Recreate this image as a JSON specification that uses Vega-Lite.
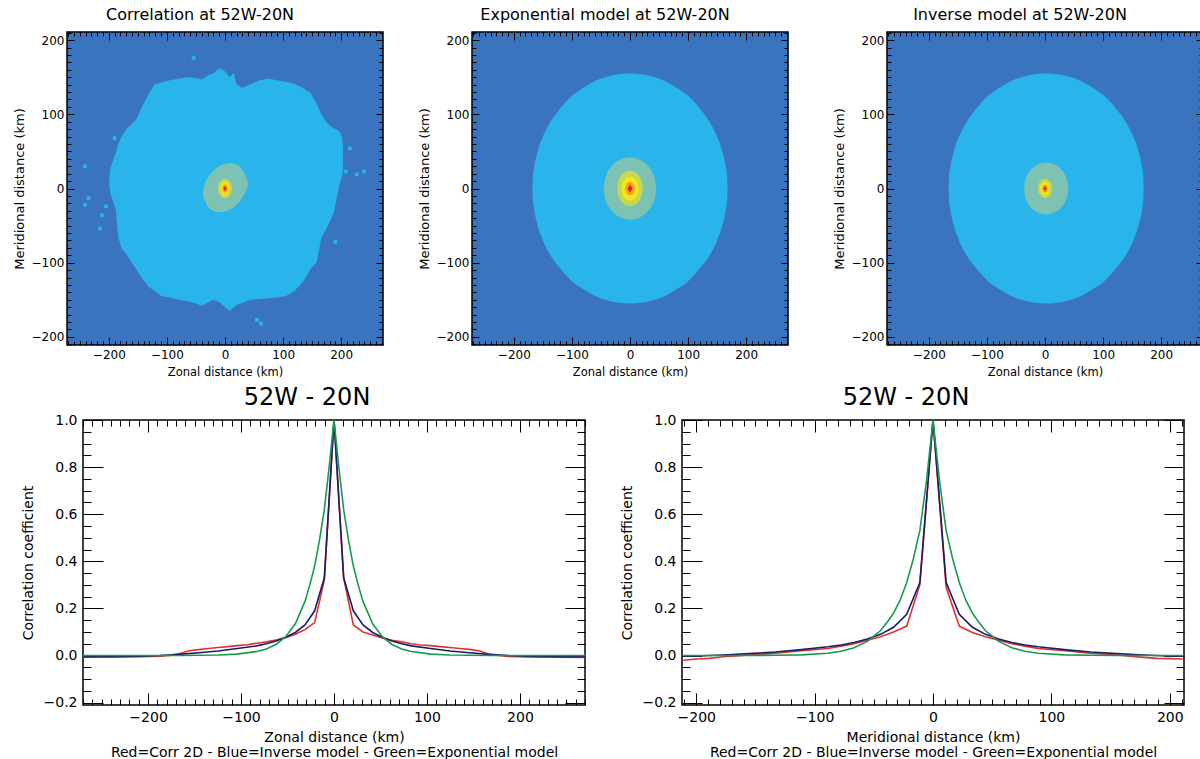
{
  "$schema": "https://vega.github.io/schema/vega-lite/v6.json",
  "background": "white",
  "autosize": {"type": "pad"},
  "padding": {"left": 12, "top": 5, "right": 0, "bottom": 0},
  "config": {
    "font": "DejaVu Sans",
    "view": {"stroke": "black", "strokeWidth": 1.5},
    "axis": {"grid": false, "domain": false, "tickColor": "black", "tickWidth": 1, "labelColor": "black", "titleColor": "black", "titleFontWeight": "normal", "labelFlush": false, "labelOverlap": false, "labelBound": false},
    "title": {"fontWeight": "normal", "color": "black"}
  },
  "datasets": {
    "blob": [
      {"x": -199, "top": 15, "bot": 3}, {"x": -197, "top": 28, "bot": -8}, {"x": -193, "top": 37, "bot": -17}, {"x": -188, "top": 48, "bot": -28},
      {"x": -184, "top": 59, "bot": -65}, {"x": -178, "top": 70, "bot": -81}, {"x": -170, "top": 80, "bot": -88}, {"x": -162, "top": 86, "bot": -98},
      {"x": -152, "top": 94, "bot": -110}, {"x": -142, "top": 112, "bot": -122}, {"x": -132, "top": 126, "bot": -132}, {"x": -122, "top": 140, "bot": -138},
      {"x": -110, "top": 143, "bot": -145}, {"x": -95, "top": 146, "bot": -147}, {"x": -80, "top": 148, "bot": -150}, {"x": -65, "top": 150, "bot": -152},
      {"x": -50, "top": 149, "bot": -155}, {"x": -40, "top": 147, "bot": -158}, {"x": -30, "top": 152, "bot": -154}, {"x": -20, "top": 155, "bot": -150},
      {"x": -10, "top": 162, "bot": -153}, {"x": 0, "top": 158, "bot": -160}, {"x": 8, "top": 150, "bot": -165}, {"x": 15, "top": 156, "bot": -160},
      {"x": 20, "top": 140, "bot": -157}, {"x": 30, "top": 136, "bot": -154}, {"x": 45, "top": 141, "bot": -150}, {"x": 60, "top": 146, "bot": -149},
      {"x": 75, "top": 148, "bot": -148}, {"x": 90, "top": 146, "bot": -147}, {"x": 105, "top": 144, "bot": -145}, {"x": 120, "top": 141, "bot": -138},
      {"x": 135, "top": 135, "bot": -125}, {"x": 148, "top": 128, "bot": -108}, {"x": 158, "top": 114, "bot": -99}, {"x": 166, "top": 100, "bot": -66},
      {"x": 174, "top": 90, "bot": -55}, {"x": 182, "top": 84, "bot": -42}, {"x": 188, "top": 81, "bot": -30}, {"x": 193, "top": 80, "bot": -10},
      {"x": 198, "top": 76, "bot": 8}, {"x": 201, "top": 70, "bot": 15}, {"x": 203, "top": 58, "bot": 24}
    ],
    "specks": [
      {"x": -54, "y": 176}, {"x": -190, "y": 68}, {"x": 215, "y": 54}, {"x": 239, "y": 23}, {"x": 227, "y": 19}, {"x": 208, "y": 23},
      {"x": -241, "y": -22}, {"x": -235, "y": -13}, {"x": -205, "y": -24}, {"x": -215, "y": -54}, {"x": -212, "y": -36}, {"x": 55, "y": -177},
      {"x": 62, "y": -182}, {"x": 190, "y": -72}, {"x": -241, "y": 30}
    ],
    "p1_teal": [
      {"x": -38, "top": -4, "bot": -10}, {"x": -35, "top": 6, "bot": -16}, {"x": -30, "top": 14, "bot": -24}, {"x": -20, "top": 24, "bot": -30},
      {"x": -10, "top": 30, "bot": -32}, {"x": 0, "top": 33, "bot": -31}, {"x": 10, "top": 34, "bot": -28}, {"x": 20, "top": 32, "bot": -22},
      {"x": 30, "top": 25, "bot": -12}, {"x": 36, "top": 16, "bot": -3}, {"x": 40, "top": 7, "bot": 3}
    ],
    "s_yg": [
      {"x": -12, "top": 0, "bot": 0}, {"x": -11.6, "top": 3.2, "bot": -3.2}, {"x": -10.8, "top": 5.7, "bot": -5.7}, {"x": -8.4, "top": 9.3, "bot": -9.3},
      {"x": -4.8, "top": 11.9, "bot": -11.9}, {"x": 0, "top": 13, "bot": -13}, {"x": 4.8, "top": 11.9, "bot": -11.9}, {"x": 8.4, "top": 9.3, "bot": -9.3},
      {"x": 10.8, "top": 5.7, "bot": -5.7}, {"x": 11.6, "top": 3.2, "bot": -3.2}, {"x": 12, "top": 0, "bot": 0}
    ],
    "s_y": [
      {"x": -8, "top": 0, "bot": 0}, {"x": -7.8, "top": 2.2, "bot": -2.2}, {"x": -7.2, "top": 3.9, "bot": -3.9}, {"x": -5.6, "top": 6.4, "bot": -6.4},
      {"x": -3.2, "top": 8.3, "bot": -8.3}, {"x": 0, "top": 9, "bot": -9}, {"x": 3.2, "top": 8.3, "bot": -8.3}, {"x": 5.6, "top": 6.4, "bot": -6.4},
      {"x": 7.2, "top": 3.9, "bot": -3.9}, {"x": 7.8, "top": 2.2, "bot": -2.2}, {"x": 8, "top": 0, "bot": 0}
    ],
    "s_o": [
      {"x": -5, "top": 0, "bot": 0}, {"x": -2.5, "top": 4.8, "bot": -4.8}, {"x": 0, "top": 5.5, "bot": -5.5}, {"x": 2.5, "top": 4.8, "bot": -4.8}, {"x": 5, "top": 0, "bot": 0}
    ],
    "s_r": [
      {"x": -3, "top": 0, "bot": 0}, {"x": 0, "top": 3.5, "bot": -3.5}, {"x": 3, "top": 0, "bot": 0}
    ],
    "p2_big": [
      {"x": -168, "top": 0, "bot": 0}, {"x": -167, "top": 17, "bot": -17}, {"x": -165, "top": 29, "bot": -29}, {"x": -160, "top": 47, "bot": -47},
      {"x": -150, "top": 70, "bot": -70}, {"x": -140, "top": 86, "bot": -86}, {"x": -120, "top": 108, "bot": -108}, {"x": -100, "top": 125, "bot": -125},
      {"x": -80, "top": 136, "bot": -136}, {"x": -60, "top": 145, "bot": -145}, {"x": -40, "top": 150.5, "bot": -150.5}, {"x": -20, "top": 154, "bot": -154},
      {"x": 0, "top": 155, "bot": -155}, {"x": 20, "top": 154, "bot": -154}, {"x": 40, "top": 150.5, "bot": -150.5}, {"x": 60, "top": 145, "bot": -145},
      {"x": 80, "top": 136, "bot": -136}, {"x": 100, "top": 125, "bot": -125}, {"x": 120, "top": 108, "bot": -108}, {"x": 140, "top": 86, "bot": -86},
      {"x": 150, "top": 70, "bot": -70}, {"x": 160, "top": 47, "bot": -47}, {"x": 165, "top": 29, "bot": -29}, {"x": 167, "top": 17, "bot": -17}, {"x": 168, "top": 0, "bot": 0}
    ],
    "p2_teal": [
      {"x": -45, "top": 0, "bot": 0}, {"x": -43.6, "top": 10.2, "bot": -10.2}, {"x": -40.5, "top": 18.3, "bot": -18.3}, {"x": -31.5, "top": 30, "bot": -30},
      {"x": -18, "top": 38.5, "bot": -38.5}, {"x": 0, "top": 42, "bot": -42}, {"x": 18, "top": 38.5, "bot": -38.5}, {"x": 31.5, "top": 30, "bot": -30},
      {"x": 40.5, "top": 18.3, "bot": -18.3}, {"x": 43.6, "top": 10.2, "bot": -10.2}, {"x": 45, "top": 0, "bot": 0}
    ],
    "p2_yg": [
      {"x": -22, "top": 0, "bot": 0}, {"x": -21.3, "top": 5.8, "bot": -5.8}, {"x": -19.8, "top": 10.5, "bot": -10.5}, {"x": -15.4, "top": 17.1, "bot": -17.1},
      {"x": -8.8, "top": 22, "bot": -22}, {"x": 0, "top": 24, "bot": -24}, {"x": 8.8, "top": 22, "bot": -22}, {"x": 15.4, "top": 17.1, "bot": -17.1},
      {"x": 19.8, "top": 10.5, "bot": -10.5}, {"x": 21.3, "top": 5.8, "bot": -5.8}, {"x": 22, "top": 0, "bot": 0}
    ],
    "p2_y": [
      {"x": -15, "top": 0, "bot": 0}, {"x": -14.5, "top": 3.9, "bot": -3.9}, {"x": -13.5, "top": 7, "bot": -7}, {"x": -10.5, "top": 11.4, "bot": -11.4},
      {"x": -6, "top": 14.7, "bot": -14.7}, {"x": 0, "top": 16, "bot": -16}, {"x": 6, "top": 14.7, "bot": -14.7}, {"x": 10.5, "top": 11.4, "bot": -11.4},
      {"x": 13.5, "top": 7, "bot": -7}, {"x": 14.5, "top": 3.9, "bot": -3.9}, {"x": 15, "top": 0, "bot": 0}
    ],
    "p2_o": [
      {"x": -8, "top": 0, "bot": 0}, {"x": -7.8, "top": 2.2, "bot": -2.2}, {"x": -7.2, "top": 3.9, "bot": -3.9}, {"x": -5.6, "top": 6.4, "bot": -6.4},
      {"x": -3.2, "top": 8.3, "bot": -8.3}, {"x": 0, "top": 9, "bot": -9}, {"x": 3.2, "top": 8.3, "bot": -8.3}, {"x": 5.6, "top": 6.4, "bot": -6.4},
      {"x": 7.2, "top": 3.9, "bot": -3.9}, {"x": 7.8, "top": 2.2, "bot": -2.2}, {"x": 8, "top": 0, "bot": 0}
    ],
    "p2_r": [
      {"x": -4.5, "top": 0, "bot": 0}, {"x": 0, "top": 5.5, "bot": -5.5}, {"x": 4.5, "top": 0, "bot": 0}
    ],
    "p3_big": [
      {"x": -166, "top": 0, "bot": 0}, {"x": -165, "top": 17, "bot": -17}, {"x": -163, "top": 29, "bot": -29}, {"x": -158, "top": 47, "bot": -47},
      {"x": -148, "top": 70, "bot": -70}, {"x": -138, "top": 86, "bot": -86}, {"x": -118, "top": 108, "bot": -108}, {"x": -98, "top": 125, "bot": -125},
      {"x": -78, "top": 136, "bot": -136}, {"x": -58, "top": 145, "bot": -145}, {"x": -38, "top": 150.5, "bot": -150.5}, {"x": -18, "top": 154, "bot": -154},
      {"x": 2, "top": 155, "bot": -155}, {"x": 22, "top": 154, "bot": -154}, {"x": 42, "top": 150.5, "bot": -150.5}, {"x": 62, "top": 145, "bot": -145},
      {"x": 82, "top": 136, "bot": -136}, {"x": 102, "top": 125, "bot": -125}, {"x": 122, "top": 108, "bot": -108}, {"x": 142, "top": 86, "bot": -86},
      {"x": 152, "top": 70, "bot": -70}, {"x": 162, "top": 47, "bot": -47}, {"x": 167, "top": 29, "bot": -29}, {"x": 169, "top": 17, "bot": -17}, {"x": 170, "top": 0, "bot": 0}
    ],
    "p3_teal": [
      {"x": -36, "top": 0, "bot": 0}, {"x": -34.9, "top": 8.5, "bot": -8.5}, {"x": -32.2, "top": 15.3, "bot": -15.3}, {"x": -24.6, "top": 25, "bot": -25},
      {"x": -13.2, "top": 32.1, "bot": -32.1}, {"x": 2, "top": 35, "bot": -35}, {"x": 17.2, "top": 32.1, "bot": -32.1}, {"x": 28.6, "top": 25, "bot": -25},
      {"x": 36.2, "top": 15.3, "bot": -15.3}, {"x": 38.9, "top": 8.5, "bot": -8.5}, {"x": 40, "top": 0, "bot": 0}
    ],
    "zonal": [
      {"s": "red", "x": -270.4, "v": -0.007}, {"s": "red", "x": -239.2, "v": -0.006}, {"s": "red", "x": -208, "v": -0.005}, {"s": "red", "x": -187.2, "v": -0.003},
      {"s": "red", "x": -176.8, "v": 0.0}, {"s": "red", "x": -166.4, "v": 0.008}, {"s": "red", "x": -156, "v": 0.02}, {"s": "red", "x": -145.6, "v": 0.025},
      {"s": "red", "x": -135.2, "v": 0.03}, {"s": "red", "x": -124.8, "v": 0.034}, {"s": "red", "x": -114.4, "v": 0.038}, {"s": "red", "x": -104, "v": 0.042},
      {"s": "red", "x": -93.6, "v": 0.046}, {"s": "red", "x": -83.2, "v": 0.052}, {"s": "red", "x": -72.8, "v": 0.058}, {"s": "red", "x": -62.4, "v": 0.066},
      {"s": "red", "x": -52, "v": 0.076}, {"s": "red", "x": -41.6, "v": 0.09}, {"s": "red", "x": -31.2, "v": 0.11}, {"s": "red", "x": -20.8, "v": 0.14},
      {"s": "red", "x": -10.4, "v": 0.32}, {"s": "red", "x": 0, "v": 1.0}, {"s": "red", "x": 10.4, "v": 0.33}, {"s": "red", "x": 20.8, "v": 0.13},
      {"s": "red", "x": 31.2, "v": 0.1}, {"s": "red", "x": 41.6, "v": 0.087}, {"s": "red", "x": 52, "v": 0.075}, {"s": "red", "x": 62.4, "v": 0.065},
      {"s": "red", "x": 72.8, "v": 0.058}, {"s": "red", "x": 83.2, "v": 0.05}, {"s": "red", "x": 93.6, "v": 0.045}, {"s": "red", "x": 104, "v": 0.042},
      {"s": "red", "x": 114.4, "v": 0.038}, {"s": "red", "x": 124.8, "v": 0.034}, {"s": "red", "x": 135.2, "v": 0.03}, {"s": "red", "x": 145.6, "v": 0.026},
      {"s": "red", "x": 156, "v": 0.02}, {"s": "red", "x": 166.4, "v": 0.006}, {"s": "red", "x": 176.8, "v": 0.0}, {"s": "red", "x": 187.2, "v": -0.004},
      {"s": "red", "x": 208, "v": -0.006}, {"s": "red", "x": 239.2, "v": -0.007}, {"s": "red", "x": 270.4, "v": -0.008},
      {"s": "blue", "x": -270.4, "v": -0.005}, {"s": "blue", "x": -239.2, "v": -0.005}, {"s": "blue", "x": -208, "v": -0.003}, {"s": "blue", "x": -187.2, "v": 0.0},
      {"s": "blue", "x": -166.4, "v": 0.005}, {"s": "blue", "x": -145.6, "v": 0.012}, {"s": "blue", "x": -124.8, "v": 0.019}, {"s": "blue", "x": -104, "v": 0.03},
      {"s": "blue", "x": -83.2, "v": 0.041}, {"s": "blue", "x": -72.8, "v": 0.05}, {"s": "blue", "x": -62.4, "v": 0.062}, {"s": "blue", "x": -52, "v": 0.078},
      {"s": "blue", "x": -41.6, "v": 0.098}, {"s": "blue", "x": -31.2, "v": 0.13}, {"s": "blue", "x": -20.8, "v": 0.19}, {"s": "blue", "x": -10.4, "v": 0.33},
      {"s": "blue", "x": 0, "v": 1.0}, {"s": "blue", "x": 10.4, "v": 0.33}, {"s": "blue", "x": 20.8, "v": 0.19}, {"s": "blue", "x": 31.2, "v": 0.13},
      {"s": "blue", "x": 41.6, "v": 0.098}, {"s": "blue", "x": 52, "v": 0.078}, {"s": "blue", "x": 62.4, "v": 0.062}, {"s": "blue", "x": 72.8, "v": 0.05},
      {"s": "blue", "x": 83.2, "v": 0.041}, {"s": "blue", "x": 104, "v": 0.03}, {"s": "blue", "x": 124.8, "v": 0.019}, {"s": "blue", "x": 145.6, "v": 0.012},
      {"s": "blue", "x": 166.4, "v": 0.005}, {"s": "blue", "x": 187.2, "v": 0.0}, {"s": "blue", "x": 208, "v": -0.003}, {"s": "blue", "x": 239.2, "v": -0.005},
      {"s": "blue", "x": 270.4, "v": -0.005},
      {"s": "green", "x": -270.4, "v": 0.0}, {"s": "green", "x": -166.4, "v": 0.0}, {"s": "green", "x": -145.6, "v": 0.001}, {"s": "green", "x": -124.8, "v": 0.002},
      {"s": "green", "x": -104, "v": 0.006}, {"s": "green", "x": -83.2, "v": 0.017}, {"s": "green", "x": -72.8, "v": 0.028}, {"s": "green", "x": -62.4, "v": 0.047},
      {"s": "green", "x": -52, "v": 0.08}, {"s": "green", "x": -41.6, "v": 0.135}, {"s": "green", "x": -31.2, "v": 0.23}, {"s": "green", "x": -26, "v": 0.3},
      {"s": "green", "x": -20.8, "v": 0.38}, {"s": "green", "x": -15.6, "v": 0.49}, {"s": "green", "x": -10.4, "v": 0.62}, {"s": "green", "x": -5.2, "v": 0.8},
      {"s": "green", "x": 0, "v": 1.0}, {"s": "green", "x": 5.2, "v": 0.8}, {"s": "green", "x": 10.4, "v": 0.62}, {"s": "green", "x": 15.6, "v": 0.49},
      {"s": "green", "x": 20.8, "v": 0.38}, {"s": "green", "x": 26, "v": 0.3}, {"s": "green", "x": 31.2, "v": 0.23}, {"s": "green", "x": 41.6, "v": 0.135},
      {"s": "green", "x": 52, "v": 0.08}, {"s": "green", "x": 62.4, "v": 0.047}, {"s": "green", "x": 72.8, "v": 0.028}, {"s": "green", "x": 83.2, "v": 0.017},
      {"s": "green", "x": 104, "v": 0.006}, {"s": "green", "x": 124.8, "v": 0.002}, {"s": "green", "x": 145.6, "v": 0.001}, {"s": "green", "x": 166.4, "v": 0.0},
      {"s": "green", "x": 270.4, "v": 0.0}
    ],
    "merid": [
      {"s": "red", "x": -210.9, "v": -0.02}, {"s": "red", "x": -199.8, "v": -0.015}, {"s": "red", "x": -188.7, "v": -0.012}, {"s": "red", "x": -177.6, "v": -0.005},
      {"s": "red", "x": -166.5, "v": -0.002}, {"s": "red", "x": -155.4, "v": 0.002}, {"s": "red", "x": -133.2, "v": 0.01}, {"s": "red", "x": -111, "v": 0.02},
      {"s": "red", "x": -88.8, "v": 0.03}, {"s": "red", "x": -77.7, "v": 0.04}, {"s": "red", "x": -66.6, "v": 0.05}, {"s": "red", "x": -55.5, "v": 0.065},
      {"s": "red", "x": -44.4, "v": 0.08}, {"s": "red", "x": -33.3, "v": 0.1}, {"s": "red", "x": -22.2, "v": 0.125}, {"s": "red", "x": -11.1, "v": 0.3},
      {"s": "red", "x": 0, "v": 1.0}, {"s": "red", "x": 11.1, "v": 0.29}, {"s": "red", "x": 22.2, "v": 0.125}, {"s": "red", "x": 33.3, "v": 0.098},
      {"s": "red", "x": 44.4, "v": 0.08}, {"s": "red", "x": 55.5, "v": 0.065}, {"s": "red", "x": 66.6, "v": 0.05}, {"s": "red", "x": 77.7, "v": 0.04},
      {"s": "red", "x": 88.8, "v": 0.03}, {"s": "red", "x": 111, "v": 0.02}, {"s": "red", "x": 133.2, "v": 0.01}, {"s": "red", "x": 155.4, "v": 0.002},
      {"s": "red", "x": 166.5, "v": -0.003}, {"s": "red", "x": 177.6, "v": -0.008}, {"s": "red", "x": 188.7, "v": -0.012}, {"s": "red", "x": 199.8, "v": -0.013},
      {"s": "red", "x": 210.9, "v": -0.015},
      {"s": "blue", "x": -210.9, "v": -0.003}, {"s": "blue", "x": -199.8, "v": -0.002}, {"s": "blue", "x": -177.6, "v": 0.002}, {"s": "blue", "x": -155.4, "v": 0.008},
      {"s": "blue", "x": -133.2, "v": 0.015}, {"s": "blue", "x": -111, "v": 0.025}, {"s": "blue", "x": -88.8, "v": 0.037}, {"s": "blue", "x": -77.7, "v": 0.045},
      {"s": "blue", "x": -66.6, "v": 0.055}, {"s": "blue", "x": -55.5, "v": 0.07}, {"s": "blue", "x": -44.4, "v": 0.09}, {"s": "blue", "x": -33.3, "v": 0.12},
      {"s": "blue", "x": -22.2, "v": 0.175}, {"s": "blue", "x": -11.1, "v": 0.31}, {"s": "blue", "x": 0, "v": 1.0}, {"s": "blue", "x": 11.1, "v": 0.31},
      {"s": "blue", "x": 22.2, "v": 0.175}, {"s": "blue", "x": 33.3, "v": 0.12}, {"s": "blue", "x": 44.4, "v": 0.09}, {"s": "blue", "x": 55.5, "v": 0.07},
      {"s": "blue", "x": 66.6, "v": 0.055}, {"s": "blue", "x": 77.7, "v": 0.045}, {"s": "blue", "x": 88.8, "v": 0.037}, {"s": "blue", "x": 111, "v": 0.025},
      {"s": "blue", "x": 133.2, "v": 0.015}, {"s": "blue", "x": 155.4, "v": 0.008}, {"s": "blue", "x": 177.6, "v": 0.002}, {"s": "blue", "x": 199.8, "v": -0.002},
      {"s": "blue", "x": 210.9, "v": -0.003},
      {"s": "green", "x": -210.9, "v": 0.0}, {"s": "green", "x": -155.4, "v": 0.0}, {"s": "green", "x": -133.2, "v": 0.001}, {"s": "green", "x": -111, "v": 0.003},
      {"s": "green", "x": -88.8, "v": 0.01}, {"s": "green", "x": -77.7, "v": 0.018}, {"s": "green", "x": -66.6, "v": 0.033}, {"s": "green", "x": -55.5, "v": 0.06},
      {"s": "green", "x": -44.4, "v": 0.105}, {"s": "green", "x": -38.85, "v": 0.14}, {"s": "green", "x": -33.3, "v": 0.18}, {"s": "green", "x": -27.75, "v": 0.235},
      {"s": "green", "x": -22.2, "v": 0.31}, {"s": "green", "x": -16.65, "v": 0.41}, {"s": "green", "x": -11.1, "v": 0.53}, {"s": "green", "x": -5.55, "v": 0.74},
      {"s": "green", "x": 0, "v": 1.0}, {"s": "green", "x": 5.55, "v": 0.74}, {"s": "green", "x": 11.1, "v": 0.53}, {"s": "green", "x": 16.65, "v": 0.41},
      {"s": "green", "x": 22.2, "v": 0.31}, {"s": "green", "x": 27.75, "v": 0.235}, {"s": "green", "x": 33.3, "v": 0.18}, {"s": "green", "x": 38.85, "v": 0.14},
      {"s": "green", "x": 44.4, "v": 0.105}, {"s": "green", "x": 55.5, "v": 0.06}, {"s": "green", "x": 66.6, "v": 0.033}, {"s": "green", "x": 77.7, "v": 0.018},
      {"s": "green", "x": 88.8, "v": 0.01}, {"s": "green", "x": 111, "v": 0.003}, {"s": "green", "x": 133.2, "v": 0.001}, {"s": "green", "x": 155.4, "v": 0.0},
      {"s": "green", "x": 210.9, "v": 0.0}
    ]
  },
  "bounds": "flush",
  "spacing": 388,
  "vconcat": [
    {
      "bounds": "flush",
      "spacing": 89,
      "hconcat": [
        {
          "width": 316, "height": 313,
          "view": {"fill": "#3B74BE", "stroke": "black", "strokeWidth": 1.5},
          "title": {"text": "Correlation at 52W-20N", "fontSize": 16, "dx": -25, "offset": 4},
          "resolve": {"axis": {"x": "independent", "y": "independent"}},
          "layer": [
            {"data": {"name": "blob"}, "mark": {"type": "area", "color": "#2AB4EC", "interpolate": "linear", "opacity": 1},
             "encoding": {
               "x": {"field": "x", "type": "quantitative", "scale": {"domain": [-272, 272], "nice": false, "zero": false},
                     "axis": {"orient": "bottom", "title": "Zonal distance (km)", "titleFontSize": 11.5, "titlePadding": 2, "labelFontSize": 12, "labelPadding": 12,
                              "values": [-270,-260,-250,-240,-230,-220,-210,-200,-190,-180,-170,-160,-150,-140,-130,-120,-110,-100,-90,-80,-70,-60,-50,-40,-30,-20,-10,0,10,20,30,40,50,60,70,80,90,100,110,120,130,140,150,160,170,180,190,200,210,220,230,240,250,260,270],
                              "labelExpr": "datum.value % 100 === 0 ? datum.label : ''",
                              "tickSize": {"condition": {"test": "datum.value % 100 === 0", "value": -8}, "value": -4}}},
               "y": {"field": "top", "type": "quantitative", "scale": {"domain": [-211, 211], "nice": false, "zero": false},
                     "axis": {"orient": "left", "title": "Meridional distance (km)", "titleFontSize": 13, "titlePadding": 5, "labelFontSize": 12, "labelPadding": 10,
                              "values": [-210,-200,-190,-180,-170,-160,-150,-140,-130,-120,-110,-100,-90,-80,-70,-60,-50,-40,-30,-20,-10,0,10,20,30,40,50,60,70,80,90,100,110,120,130,140,150,160,170,180,190,200,210],
                              "labelExpr": "datum.value % 100 === 0 ? datum.label : ''",
                              "tickSize": {"condition": {"test": "datum.value % 100 === 0", "value": -7}, "value": -4}}},
               "y2": {"field": "bot"}
             }},
            {"data": {"name": "specks"}, "mark": {"type": "square", "color": "#2AB4EC", "size": 14, "opacity": 1},
             "encoding": {"x": {"field": "x", "type": "quantitative", "axis": {"orient": "top", "labels": false, "title": null,
                              "values": [-270,-260,-250,-240,-230,-220,-210,-200,-190,-180,-170,-160,-150,-140,-130,-120,-110,-100,-90,-80,-70,-60,-50,-40,-30,-20,-10,0,10,20,30,40,50,60,70,80,90,100,110,120,130,140,150,160,170,180,190,200,210,220,230,240,250,260,270],
                              "tickSize": {"condition": {"test": "datum.value % 100 === 0", "value": -8}, "value": -4}}},
                          "y": {"field": "y", "type": "quantitative", "axis": {"orient": "right", "labels": false, "title": null,
                              "values": [-210,-200,-190,-180,-170,-160,-150,-140,-130,-120,-110,-100,-90,-80,-70,-60,-50,-40,-30,-20,-10,0,10,20,30,40,50,60,70,80,90,100,110,120,130,140,150,160,170,180,190,200,210],
                              "tickSize": {"condition": {"test": "datum.value % 100 === 0", "value": -7}, "value": -4}}}}},
            {"data": {"name": "p1_teal"}, "mark": {"type": "area", "color": "#7DC2B3", "interpolate": "monotone"},
             "encoding": {"x": {"field": "x", "type": "quantitative", "axis": null}, "y": {"field": "top", "type": "quantitative", "axis": null}, "y2": {"field": "bot"}}},
            {"data": {"name": "s_yg"}, "mark": {"type": "area", "color": "#C5D94F", "interpolate": "monotone"},
             "encoding": {"x": {"field": "x", "type": "quantitative", "axis": null}, "y": {"field": "top", "type": "quantitative", "axis": null}, "y2": {"field": "bot"}}},
            {"data": {"name": "s_y"}, "mark": {"type": "area", "color": "#F6E41C", "interpolate": "monotone"},
             "encoding": {"x": {"field": "x", "type": "quantitative", "axis": null}, "y": {"field": "top", "type": "quantitative", "axis": null}, "y2": {"field": "bot"}}},
            {"data": {"name": "s_o"}, "mark": {"type": "area", "color": "#F7A21B", "interpolate": "monotone"},
             "encoding": {"x": {"field": "x", "type": "quantitative", "axis": null}, "y": {"field": "top", "type": "quantitative", "axis": null}, "y2": {"field": "bot"}}},
            {"data": {"name": "s_r"}, "mark": {"type": "area", "color": "#E1262A"},
             "encoding": {"x": {"field": "x", "type": "quantitative", "axis": null}, "y": {"field": "top", "type": "quantitative", "axis": null}, "y2": {"field": "bot"}}}
          ]
        },
        {
          "bounds": "flush",
          "spacing": 99,
          "hconcat": [
            {
              "width": 316, "height": 313,
              "view": {"fill": "#3B74BE", "stroke": "black", "strokeWidth": 1.5},
              "title": {"text": "Exponential model at 52W-20N", "fontSize": 16, "dx": -25, "offset": 4},
              "resolve": {"axis": {"x": "independent", "y": "independent"}},
              "layer": [
                {"data": {"name": "p2_big"}, "mark": {"type": "area", "color": "#2AB4EC", "interpolate": "monotone"},
                 "encoding": {
                   "x": {"field": "x", "type": "quantitative", "scale": {"domain": [-272, 272], "nice": false, "zero": false},
                         "axis": {"orient": "bottom", "title": "Zonal distance (km)", "titleFontSize": 11.5, "titlePadding": 2, "labelFontSize": 12, "labelPadding": 12,
                                  "values": [-270,-260,-250,-240,-230,-220,-210,-200,-190,-180,-170,-160,-150,-140,-130,-120,-110,-100,-90,-80,-70,-60,-50,-40,-30,-20,-10,0,10,20,30,40,50,60,70,80,90,100,110,120,130,140,150,160,170,180,190,200,210,220,230,240,250,260,270],
                                  "labelExpr": "datum.value % 100 === 0 ? datum.label : ''",
                                  "tickSize": {"condition": {"test": "datum.value % 100 === 0", "value": -8}, "value": -4}}},
                   "y": {"field": "top", "type": "quantitative", "scale": {"domain": [-211, 211], "nice": false, "zero": false},
                         "axis": {"orient": "left", "title": "Meridional distance (km)", "titleFontSize": 13, "titlePadding": 5, "labelFontSize": 12, "labelPadding": 10,
                                  "values": [-210,-200,-190,-180,-170,-160,-150,-140,-130,-120,-110,-100,-90,-80,-70,-60,-50,-40,-30,-20,-10,0,10,20,30,40,50,60,70,80,90,100,110,120,130,140,150,160,170,180,190,200,210],
                                  "labelExpr": "datum.value % 100 === 0 ? datum.label : ''",
                                  "tickSize": {"condition": {"test": "datum.value % 100 === 0", "value": -7}, "value": -4}}},
                   "y2": {"field": "bot"}
                 }},
                {"data": {"name": "p2_teal"}, "mark": {"type": "area", "color": "#7DC2B3", "interpolate": "monotone"},
                 "encoding": {"x": {"field": "x", "type": "quantitative", "axis": {"orient": "top", "labels": false, "title": null,
                                  "values": [-270,-260,-250,-240,-230,-220,-210,-200,-190,-180,-170,-160,-150,-140,-130,-120,-110,-100,-90,-80,-70,-60,-50,-40,-30,-20,-10,0,10,20,30,40,50,60,70,80,90,100,110,120,130,140,150,160,170,180,190,200,210,220,230,240,250,260,270],
                                  "tickSize": {"condition": {"test": "datum.value % 100 === 0", "value": -8}, "value": -4}}},
                              "y": {"field": "top", "type": "quantitative", "axis": {"orient": "right", "labels": false, "title": null,
                                  "values": [-210,-200,-190,-180,-170,-160,-150,-140,-130,-120,-110,-100,-90,-80,-70,-60,-50,-40,-30,-20,-10,0,10,20,30,40,50,60,70,80,90,100,110,120,130,140,150,160,170,180,190,200,210],
                                  "tickSize": {"condition": {"test": "datum.value % 100 === 0", "value": -7}, "value": -4}}},
                              "y2": {"field": "bot"}}},
                {"data": {"name": "p2_yg"}, "mark": {"type": "area", "color": "#C5D94F", "interpolate": "monotone"},
                 "encoding": {"x": {"field": "x", "type": "quantitative", "axis": null}, "y": {"field": "top", "type": "quantitative", "axis": null}, "y2": {"field": "bot"}}},
                {"data": {"name": "p2_y"}, "mark": {"type": "area", "color": "#F6E41C", "interpolate": "monotone"},
                 "encoding": {"x": {"field": "x", "type": "quantitative", "axis": null}, "y": {"field": "top", "type": "quantitative", "axis": null}, "y2": {"field": "bot"}}},
                {"data": {"name": "p2_o"}, "mark": {"type": "area", "color": "#F7A21B", "interpolate": "monotone"},
                 "encoding": {"x": {"field": "x", "type": "quantitative", "axis": null}, "y": {"field": "top", "type": "quantitative", "axis": null}, "y2": {"field": "bot"}}},
                {"data": {"name": "p2_r"}, "mark": {"type": "area", "color": "#E1262A"},
                 "encoding": {"x": {"field": "x", "type": "quantitative", "axis": null}, "y": {"field": "top", "type": "quantitative", "axis": null}, "y2": {"field": "bot"}}}
              ]
            },
            {
              "width": 316, "height": 313,
              "view": {"fill": "#3B74BE", "stroke": "black", "strokeWidth": 1.5},
              "title": {"text": "Inverse model at 52W-20N", "fontSize": 16, "dx": -25, "offset": 4},
              "resolve": {"axis": {"x": "independent", "y": "independent"}},
              "layer": [
                {"data": {"name": "p3_big"}, "mark": {"type": "area", "color": "#2AB4EC", "interpolate": "monotone"},
                 "encoding": {
                   "x": {"field": "x", "type": "quantitative", "scale": {"domain": [-272, 272], "nice": false, "zero": false},
                         "axis": {"orient": "bottom", "title": "Zonal distance (km)", "titleFontSize": 11.5, "titlePadding": 2, "labelFontSize": 12, "labelPadding": 12,
                                  "values": [-270,-260,-250,-240,-230,-220,-210,-200,-190,-180,-170,-160,-150,-140,-130,-120,-110,-100,-90,-80,-70,-60,-50,-40,-30,-20,-10,0,10,20,30,40,50,60,70,80,90,100,110,120,130,140,150,160,170,180,190,200,210,220,230,240,250,260,270],
                                  "labelExpr": "datum.value % 100 === 0 ? datum.label : ''",
                                  "tickSize": {"condition": {"test": "datum.value % 100 === 0", "value": -8}, "value": -4}}},
                   "y": {"field": "top", "type": "quantitative", "scale": {"domain": [-211, 211], "nice": false, "zero": false},
                         "axis": {"orient": "left", "title": "Meridional distance (km)", "titleFontSize": 13, "titlePadding": 5, "labelFontSize": 12, "labelPadding": 10,
                                  "values": [-210,-200,-190,-180,-170,-160,-150,-140,-130,-120,-110,-100,-90,-80,-70,-60,-50,-40,-30,-20,-10,0,10,20,30,40,50,60,70,80,90,100,110,120,130,140,150,160,170,180,190,200,210],
                                  "labelExpr": "datum.value % 100 === 0 ? datum.label : ''",
                                  "tickSize": {"condition": {"test": "datum.value % 100 === 0", "value": -7}, "value": -4}}},
                   "y2": {"field": "bot"}
                 }},
                {"data": {"name": "p3_teal"}, "mark": {"type": "area", "color": "#7DC2B3", "interpolate": "monotone"},
                 "encoding": {"x": {"field": "x", "type": "quantitative", "axis": {"orient": "top", "labels": false, "title": null,
                                  "values": [-270,-260,-250,-240,-230,-220,-210,-200,-190,-180,-170,-160,-150,-140,-130,-120,-110,-100,-90,-80,-70,-60,-50,-40,-30,-20,-10,0,10,20,30,40,50,60,70,80,90,100,110,120,130,140,150,160,170,180,190,200,210,220,230,240,250,260,270],
                                  "tickSize": {"condition": {"test": "datum.value % 100 === 0", "value": -8}, "value": -4}}},
                              "y": {"field": "top", "type": "quantitative", "axis": {"orient": "right", "labels": false, "title": null,
                                  "values": [-210,-200,-190,-180,-170,-160,-150,-140,-130,-120,-110,-100,-90,-80,-70,-60,-50,-40,-30,-20,-10,0,10,20,30,40,50,60,70,80,90,100,110,120,130,140,150,160,170,180,190,200,210],
                                  "tickSize": {"condition": {"test": "datum.value % 100 === 0", "value": -7}, "value": -4}}},
                              "y2": {"field": "bot"}}},
                {"data": {"name": "s_yg"}, "mark": {"type": "area", "color": "#C5D94F", "interpolate": "monotone"},
                 "encoding": {"x": {"field": "x", "type": "quantitative", "axis": null}, "y": {"field": "top", "type": "quantitative", "axis": null}, "y2": {"field": "bot"}}},
                {"data": {"name": "s_y"}, "mark": {"type": "area", "color": "#F6E41C", "interpolate": "monotone"},
                 "encoding": {"x": {"field": "x", "type": "quantitative", "axis": null}, "y": {"field": "top", "type": "quantitative", "axis": null}, "y2": {"field": "bot"}}},
                {"data": {"name": "s_o"}, "mark": {"type": "area", "color": "#F7A21B", "interpolate": "monotone"},
                 "encoding": {"x": {"field": "x", "type": "quantitative", "axis": null}, "y": {"field": "top", "type": "quantitative", "axis": null}, "y2": {"field": "bot"}}},
                {"data": {"name": "s_r"}, "mark": {"type": "area", "color": "#E1262A"},
                 "encoding": {"x": {"field": "x", "type": "quantitative", "axis": null}, "y": {"field": "top", "type": "quantitative", "axis": null}, "y2": {"field": "bot"}}}
              ]
            }
          ]
        }
      ]
    },
    {
      "bounds": "flush",
      "spacing": 0,
      "hconcat": [
        {"width": 16, "height": 285, "data": {"values": []}, "mark": "point", "view": {"stroke": null, "fill": null}},
        {
          "bounds": "flush",
          "spacing": 97,
          "hconcat": [
            {
              "width": 502, "height": 285,
              "data": {"name": "zonal"},
              "view": {"fill": "white", "stroke": "black", "strokeWidth": 1.5},
              "title": {"text": "52W - 20N", "fontSize": 24, "dx": -27, "offset": 3},
              "resolve": {"axis": {"x": "independent", "y": "independent"}},
              "layer": [
                {"transform": [{"filter": "datum.s === 'red'"}], "mark": {"type": "line", "color": "#E0332E", "strokeWidth": 1.6, "clip": true},
                 "encoding": {
                   "x": {"field": "x", "type": "quantitative", "scale": {"domain": [-270, 270], "nice": false, "zero": false},
                         "axis": {"orient": "bottom", "title": ["Zonal distance (km)", "Red=Corr 2D - Blue=Inverse model - Green=Exponential model"], "titleFontSize": 14, "titleLineHeight": 15, "titlePadding": 0, "labelFontSize": 14, "labelPadding": 17,
                                  "values": [-270,-260,-250,-240,-230,-220,-210,-200,-190,-180,-170,-160,-150,-140,-130,-120,-110,-100,-90,-80,-70,-60,-50,-40,-30,-20,-10,0,10,20,30,40,50,60,70,80,90,100,110,120,130,140,150,160,170,180,190,200,210,220,230,240,250,260,270],
                                  "labelExpr": "datum.value % 100 === 0 ? datum.label : ''",
                                  "tickSize": {"condition": {"test": "datum.value % 100 === 0", "value": -12}, "value": -6}}},
                   "y": {"field": "v", "type": "quantitative", "scale": {"domain": [-0.21, 1.0], "nice": false, "zero": false},
                         "axis": {"orient": "left", "title": "Correlation coefficient", "titleFontSize": 14, "titlePadding": 8, "labelFontSize": 14, "labelPadding": 26, "format": ".1f",
                                  "values": [-0.2,-0.15,-0.1,-0.05,0,0.05,0.1,0.15,0.2,0.25,0.3,0.35,0.4,0.45,0.5,0.55,0.6,0.65,0.7,0.75,0.8,0.85,0.9,0.95,1.0],
                                  "labelExpr": "abs(round(datum.value*100)) % 20 === 0 ? datum.label : ''",
                                  "tickSize": {"condition": {"test": "abs(round(datum.value*100)) % 20 === 0", "value": -20}, "value": -8}}}
                 }},
                {"transform": [{"filter": "datum.s === 'blue'"}], "mark": {"type": "line", "color": "#1B1B6B", "strokeWidth": 1.6, "clip": true},
                 "encoding": {
                   "x": {"field": "x", "type": "quantitative", "axis": {"orient": "top", "labels": false, "title": null,
                                  "values": [-270,-260,-250,-240,-230,-220,-210,-200,-190,-180,-170,-160,-150,-140,-130,-120,-110,-100,-90,-80,-70,-60,-50,-40,-30,-20,-10,0,10,20,30,40,50,60,70,80,90,100,110,120,130,140,150,160,170,180,190,200,210,220,230,240,250,260,270],
                                  "tickSize": {"condition": {"test": "datum.value % 100 === 0", "value": -12}, "value": -6}}},
                   "y": {"field": "v", "type": "quantitative", "axis": {"orient": "right", "labels": false, "title": null,
                                  "values": [-0.2,-0.15,-0.1,-0.05,0,0.05,0.1,0.15,0.2,0.25,0.3,0.35,0.4,0.45,0.5,0.55,0.6,0.65,0.7,0.75,0.8,0.85,0.9,0.95,1.0],
                                  "tickSize": {"condition": {"test": "abs(round(datum.value*100)) % 20 === 0", "value": -20}, "value": -8}}}
                 }},
                {"transform": [{"filter": "datum.s === 'green'"}], "mark": {"type": "line", "color": "#169A4E", "strokeWidth": 1.6, "clip": true},
                 "encoding": {"x": {"field": "x", "type": "quantitative", "axis": null}, "y": {"field": "v", "type": "quantitative", "axis": null}}}
              ]
            },
            {
              "width": 502, "height": 285,
              "data": {"name": "merid"},
              "view": {"fill": "white", "stroke": "black", "strokeWidth": 1.5},
              "title": {"text": "52W - 20N", "fontSize": 24, "dx": -27, "offset": 3},
              "resolve": {"axis": {"x": "independent", "y": "independent"}},
              "layer": [
                {"transform": [{"filter": "datum.s === 'red'"}], "mark": {"type": "line", "color": "#E0332E", "strokeWidth": 1.6, "clip": true},
                 "encoding": {
                   "x": {"field": "x", "type": "quantitative", "scale": {"domain": [-212, 212], "nice": false, "zero": false},
                         "axis": {"orient": "bottom", "title": ["Meridional distance (km)", "Red=Corr 2D - Blue=Inverse model - Green=Exponential model"], "titleFontSize": 14, "titleLineHeight": 15, "titlePadding": 0, "labelFontSize": 14, "labelPadding": 17,
                                  "values": [-210,-200,-190,-180,-170,-160,-150,-140,-130,-120,-110,-100,-90,-80,-70,-60,-50,-40,-30,-20,-10,0,10,20,30,40,50,60,70,80,90,100,110,120,130,140,150,160,170,180,190,200,210],
                                  "labelExpr": "datum.value % 100 === 0 ? datum.label : ''",
                                  "tickSize": {"condition": {"test": "datum.value % 100 === 0", "value": -12}, "value": -6}}},
                   "y": {"field": "v", "type": "quantitative", "scale": {"domain": [-0.21, 1.0], "nice": false, "zero": false},
                         "axis": {"orient": "left", "title": "Correlation coefficient", "titleFontSize": 14, "titlePadding": 8, "labelFontSize": 14, "labelPadding": 26, "format": ".1f",
                                  "values": [-0.2,-0.15,-0.1,-0.05,0,0.05,0.1,0.15,0.2,0.25,0.3,0.35,0.4,0.45,0.5,0.55,0.6,0.65,0.7,0.75,0.8,0.85,0.9,0.95,1.0],
                                  "labelExpr": "abs(round(datum.value*100)) % 20 === 0 ? datum.label : ''",
                                  "tickSize": {"condition": {"test": "abs(round(datum.value*100)) % 20 === 0", "value": -20}, "value": -8}}}
                 }},
                {"transform": [{"filter": "datum.s === 'blue'"}], "mark": {"type": "line", "color": "#1B1B6B", "strokeWidth": 1.6, "clip": true},
                 "encoding": {
                   "x": {"field": "x", "type": "quantitative", "axis": {"orient": "top", "labels": false, "title": null,
                                  "values": [-210,-200,-190,-180,-170,-160,-150,-140,-130,-120,-110,-100,-90,-80,-70,-60,-50,-40,-30,-20,-10,0,10,20,30,40,50,60,70,80,90,100,110,120,130,140,150,160,170,180,190,200,210],
                                  "tickSize": {"condition": {"test": "datum.value % 100 === 0", "value": -12}, "value": -6}}},
                   "y": {"field": "v", "type": "quantitative", "axis": {"orient": "right", "labels": false, "title": null,
                                  "values": [-0.2,-0.15,-0.1,-0.05,0,0.05,0.1,0.15,0.2,0.25,0.3,0.35,0.4,0.45,0.5,0.55,0.6,0.65,0.7,0.75,0.8,0.85,0.9,0.95,1.0],
                                  "tickSize": {"condition": {"test": "abs(round(datum.value*100)) % 20 === 0", "value": -20}, "value": -8}}}
                 }},
                {"transform": [{"filter": "datum.s === 'green'"}], "mark": {"type": "line", "color": "#169A4E", "strokeWidth": 1.6, "clip": true},
                 "encoding": {"x": {"field": "x", "type": "quantitative", "axis": null}, "y": {"field": "v", "type": "quantitative", "axis": null}}}
              ]
            }
          ]
        }
      ]
    }
  ]
}
